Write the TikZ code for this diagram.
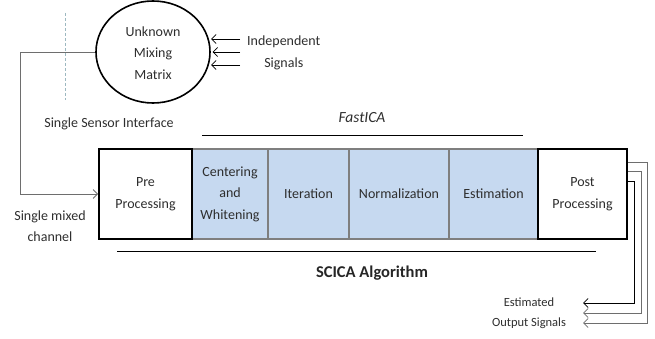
\documentclass[tikz,border=0pt]{standalone}
\usepackage{fontspec}
\setmainfont{Carlito}
\usetikzlibrary{arrows.meta,shapes.geometric}
\definecolor{txt}{HTML}{2E2E2E}
\definecolor{stage}{HTML}{C6D9F0}
\definecolor{stageline}{HTML}{7F7F7F}
\definecolor{wire}{HTML}{6E6E6E}
\definecolor{dashc}{HTML}{9DB8C0}
\tikzset{
  lbl/.style={text=txt, font=\fontsize{14}{21.5}\selectfont, align=center, inner sep=0pt},
  small/.style={text=txt, font=\fontsize{12.5}{20}\selectfont, align=center, inner sep=0pt},
  endbox/.style={draw=black, line width=1.8pt, fill=white, minimum height=90pt, inner sep=0pt, lbl},
  stagebox/.style={draw=stageline, line width=1.8pt, fill=stage, minimum height=90pt, inner sep=0pt, lbl},
  wireline/.style={draw=wire, line width=0.9pt},
  tip/.style={-{Straight Barb[length=4.5pt,width=9pt,line width=0.8pt]}},
}
\begin{document}
\begin{tikzpicture}[x=1pt,y=-1pt]
\useasboundingbox (0,0) rectangle (655,339);

% mixing stage
\node[draw=black, line width=1.6pt, ellipse, minimum width=114pt, minimum height=102pt, inner sep=0pt] (mix) at (153,52) {};
\node[lbl] (mixtxt) at (153,53) {Unknown\\Mixing\\Matrix};
\draw[dashc, dashed, line width=0.6pt, dash pattern=on 3pt off 2pt] (65,13) -- (65,100);

% independent sources
\node[lbl, anchor=west] (indep) at (247,53) {Independent\\Signals};
\coordinate (s1) at (240,39); \coordinate (s2) at (240,52); \coordinate (s3) at (240,65);
\draw[black, line width=0.8pt, tip] (s1) -- (211,39);
\draw[black, line width=0.8pt, tip] (s2) -- (212.5,52);
\draw[black, line width=0.8pt, tip] (s3) -- (211,65);

\node[lbl] (sensor) at (109,124) {Single Sensor Interface};

% FastICA bracket
\node[text=txt, font=\fontsize{15.5}{18}\selectfont\itshape, inner sep=0pt] (fica) at (362,118) {FastICA};
\coordinate (fa) at (202,135); \coordinate (fb) at (523,135);
\draw[black, line width=0.8pt] (fa) -- (fb);

% processing chain
\node[stagebox, minimum width=76pt] (cw) at (230,194) {Centering\\and\\Whitening};
\node[stagebox, minimum width=81pt] (it) at (308.5,194) {Iteration};
\node[stagebox, minimum width=100pt] (nm) at (399,194) {Normalization};
\node[stagebox, minimum width=89pt] (es) at (493.5,194) {Estimation};
\node[endbox, minimum width=93pt] (pre) at (145.5,194) {Pre\\Processing};
\node[endbox, minimum width=89pt] (post) at (582.5,194) {Post\\Processing};

% SCICA bracket
\coordinate (sa) at (117,251); \coordinate (sb) at (596,251);
\draw[black, line width=0.8pt] (sa) -- (sb);
\node[text=black!85, font=\fontsize{16.5}{20}\selectfont\bfseries, inner sep=0pt] (scica) at (372,273) {SCICA Algorithm};

% sensor channel into the chain
\coordinate (c1) at (20,52); \coordinate (c2) at (20,194);
\draw[wireline, tip] (mix.west) -- (c1) -- (c2) -- (pre.west);
\node[lbl] (mixed) at (50,226) {Single mixed\\channel};

% separated outputs
\node[small] (outs) at (529,313) {Estimated\\Output Signals};
\draw[black, line width=0.8pt, tip] (post.east |- 0,181) -- (634,181) -- (634,303) -- (583,303);
\draw[wire, line width=0.9pt, tip] (post.east |- 0,171) -- (641,171) -- (641,313) -- (583,313);
\draw[wire, line width=0.9pt, tip] (post.east |- 0,162) -- (647,162) -- (647,323) -- (583,323);
\end{tikzpicture}
\end{document}
